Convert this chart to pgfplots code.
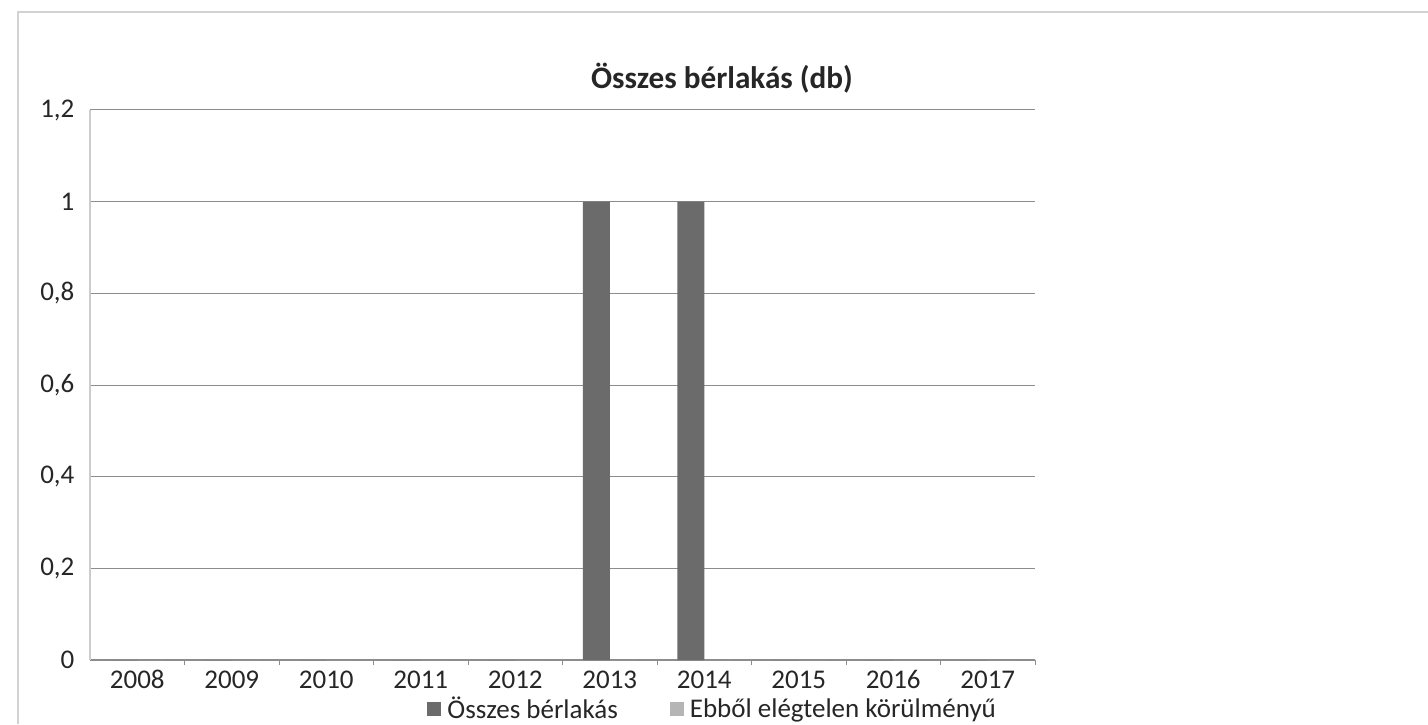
\documentclass[border=0pt]{standalone}
\usepackage{pgfplots}
\pgfplotsset{compat=1.18}
\usepackage{fontspec}
\setmainfont{Carlito}
\definecolor{barA}{HTML}{6B6B6B}
\definecolor{barB}{HTML}{B5B5B5}
\definecolor{gridc}{HTML}{8C8C8C}
\definecolor{txt}{HTML}{262626}
\begin{document}
\begin{tikzpicture}
\path[use as bounding box] (0,0) rectangle (714pt,362pt);
\draw[gray!35, line width=0.6pt] (9pt,0) -- (9pt,356pt) -- (714pt,356pt);
\node[font=\fontsize{15.6}{18}\selectfont\bfseries, text=txt] at (361pt,323pt) {Összes bérlakás (db)};
\begin{axis}[
  at={(45pt,32pt)}, anchor=south west,
  scale only axis, width=472.5pt, height=275pt,
  ybar=0pt, bar width=13.5pt,
  xmin=-0.5, xmax=9.5, ymin=0, ymax=1.2,
  xtick={0,...,9},
  xticklabels={2008,2009,2010,2011,2012,2013,2014,2015,2016,2017},
  xticklabel style={text height=1.6ex, text depth=0.2ex, inner sep=2pt},
  major x tick style={draw=none},
  minor xtick={0.5,1.5,...,9.5},
  minor x tick style={gridc, line width=0.5pt},
  minor tick length=2.5pt,
  tick align=outside,
  ytick={0,0.2,0.4,0.6,0.8,1,1.2},
  major y tick style={draw=none},
  ymajorgrids,
  major grid style={gridc, line width=0.5pt},
  axis x line*=bottom, axis y line*=left,
  x axis line style={gridc, line width=0.6pt},
  y axis line style={gray!40, line width=0.6pt},
  /pgf/number format/assume math mode=true,
  yticklabel style={/pgf/number format/.cd, use comma, fixed, precision=1},
  ticklabel style={font=\fontsize{13.5}{16}\selectfont, text=txt},
  legend style={at={(0.66,-0.09)}, anchor=center, draw=none, fill=none,
    legend columns=2, font=\fontsize{13.5}{16}\selectfont, text=txt,
    /tikz/every even column/.append style={column sep=24pt},
    /tikz/every odd column/.append style={column sep=1pt}},
  legend image code/.code={\fill[#1] (0pt,-3pt) rectangle (7pt,4pt);},
]
\addplot[fill=barA, draw=none] coordinates {(0,0) (1,0) (2,0) (3,0) (4,0) (5,1) (6,1) (7,0) (8,0) (9,0)};
\addplot[fill=barB, draw=none] coordinates {(0,0) (1,0) (2,0) (3,0) (4,0) (5,0) (6,0) (7,0) (8,0) (9,0)};
\legend{Összes bérlakás, Ebből elégtelen körülményű}
\end{axis}
\end{tikzpicture}
\end{document}
